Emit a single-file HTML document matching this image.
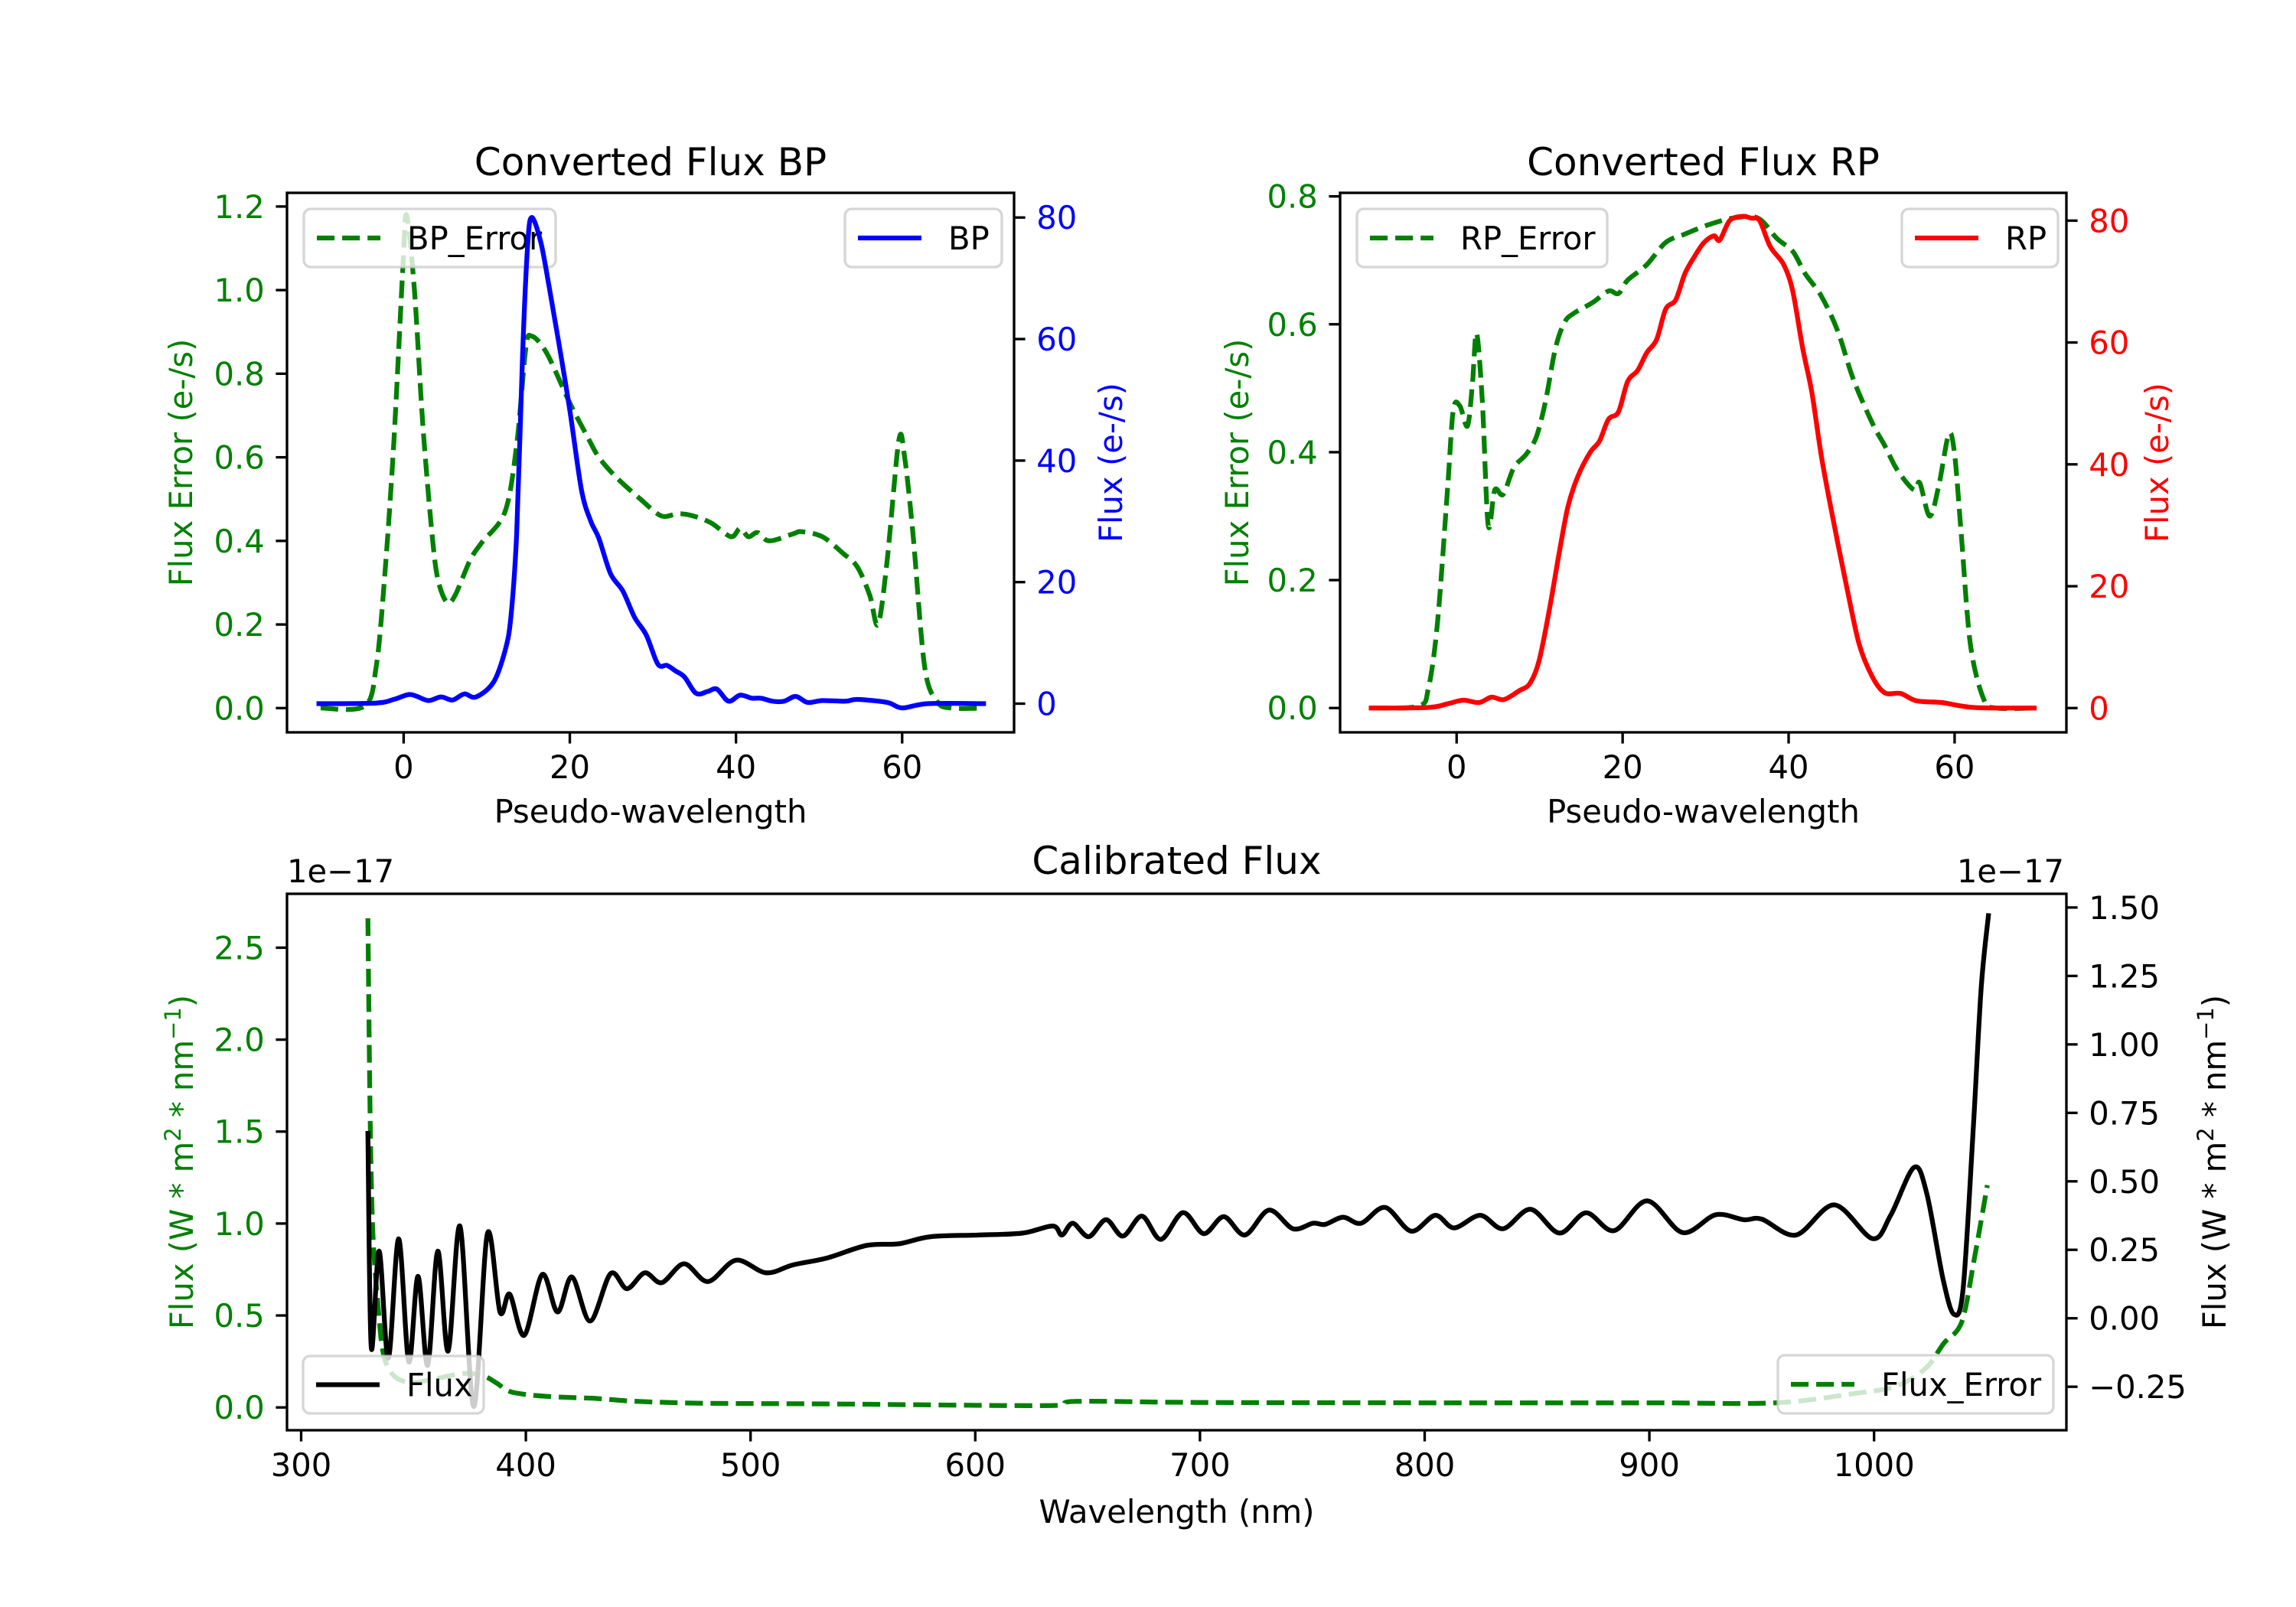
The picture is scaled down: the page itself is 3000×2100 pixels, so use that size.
<!DOCTYPE html>
<html><head><meta charset="utf-8"><style>
html,body{margin:0;padding:0;background:#fff}
svg{display:block}
text{font-family:"DejaVu Sans","Liberation Sans",sans-serif}
</style></head><body>
<svg id="fig" xmlns="http://www.w3.org/2000/svg" width="3000" height="2100" viewBox="0 0 3000 2100">
<rect width="3000" height="2100" fill="#fff"/>
</svg>
<script>
// ---- data: BP panel ----
const bpX = [-10.2,-3.3,-1.2,0.6,1.6,3.0,4.5,5.9,7.3,8.7,10.8,12.2,12.9,13.6,14.3,14.9,15.4,16.5,17.5,18.6,20,21.4,22.5,23.5,24.9,26.4,27.8,29.2,30.6,31.7,32.7,33.8,35.2,36.6,37.7,39.1,40.5,41.9,43,44.4,45.8,47.2,48.6,50.4,53.2,54.6,58.2,60,63.1,69.8];
const bpFlux = [0,0.1,0.7,1.5,1.2,0.5,1.1,0.6,1.6,1.1,3.5,8.7,14.2,28,57,75,80,76,68.7,60,48.3,35.2,30.1,27.2,21.4,18.5,14.2,11.3,6.5,6.3,5.4,4.4,1.7,2.0,2.4,0.4,1.4,0.9,0.9,0.4,0.4,1.2,0.2,0.5,0.4,0.7,0.2,-0.7,0,0];
const bpErrX = [-10,-4.7,-3.3,-2.3,-1.2,-0.1,0.35,1.3,2.3,3.4,4.1,5.2,6.2,8.0,9.4,12.2,13.6,14.7,15.4,17.2,20,22.1,23.5,25.7,28.5,31,33,34.8,37,39.4,40.5,41.5,42.6,44,46.9,47.9,50.4,52.9,54.6,56.1,57.1,58.2,59.6,60.3,61.3,62.7,64.2,65.9,69.8];
const bpErr = [0,0.005,0.10,0.31,0.63,1.05,1.18,1.0,0.68,0.42,0.31,0.253,0.27,0.354,0.396,0.47,0.63,0.86,0.89,0.85,0.73,0.65,0.6,0.55,0.50,0.46,0.465,0.46,0.443,0.41,0.43,0.41,0.42,0.40,0.417,0.422,0.41,0.37,0.338,0.27,0.20,0.354,0.64,0.6,0.417,0.10,0.016,0,0];
// ---- data: RP panel ----
const rpX = [-10.3,-3.4,-1.1,0.8,2.7,4.2,5.7,7.6,8.8,9.9,11.1,12.3,13.4,14.6,16.1,17.2,18.3,19.5,20.6,21.8,22.9,24.1,25.2,26.4,27.5,28.7,29.8,31,31.7,32.9,34.4,35.5,36.5,37.8,39.4,40.5,41.7,42.8,44,45.5,47,48.5,50.1,51.6,53.5,55.4,58.5,62.3,69.6];
const rpFlux = [0,0.1,0.7,1.3,0.9,1.8,1.4,2.9,4.0,7.6,15.6,25,33,38,42,43.8,47.4,48.6,53.6,55.4,58.3,60.5,65.5,67,71.3,74.2,76.4,77.5,76.8,80,80.7,80.4,80,75.7,72.8,68.4,59,51.8,40.9,30,19.9,10.5,5.1,2.5,2.4,1.2,0.9,0.1,0];
const rpErrX = [-10.3,-4.6,-3.4,-2.3,-1.1,-0.4,0.4,1.3,1.9,2.4,3.1,3.8,4.6,5.6,6.9,8.4,9.6,10.7,11.9,13,14.1,16.4,18.3,19.5,20.6,22.9,25.2,27.5,30.2,33.3,36.3,38.6,40.5,42,43.9,45.9,47.8,50.1,51.6,53.1,55.1,55.8,57,58.1,59.3,60,60.8,61.9,63.5,65,69.6];
const rpErr = [0,0.003,0.031,0.134,0.341,0.466,0.472,0.441,0.507,0.586,0.479,0.286,0.341,0.334,0.376,0.397,0.424,0.479,0.562,0.603,0.617,0.634,0.652,0.648,0.669,0.693,0.728,0.741,0.755,0.766,0.766,0.734,0.714,0.679,0.645,0.59,0.514,0.445,0.41,0.372,0.341,0.352,0.3,0.348,0.428,0.397,0.272,0.1,0.014,0,0];
// ---- data: calibrated ----
const calX = [329.7,331.2,334.7,338.8,343.4,347.9,352,356.3,360.8,365.4,370.7,376.8,382.9,388.5,392.8,399.3,407.3,414.1,420.5,428.6,437.7,445,452.9,460.5,470.4,481,493.5,506.9,519,534,551.6,565.9,580.1,601.5,621.1,634.5,638.6,643.4,650.5,658.2,665.7,674.2,682.6,692.4,701.7,710.6,720,730.7,741.4,750.3,755.7,763.7,771.7,782.4,794,804.7,813.1,824.7,834.9,847.1,860,871.8,884.3,899,914.8,929.5,942,950.1,965.3,982.3,999.3,1007.4,1017.8,1023.5,1030.7,1035.5,1039.6,1044.1,1047.7,1050.9];
const calFlux = [0.675,-0.107,0.245,-0.146,0.29,-0.159,0.153,-0.172,0.245,-0.12,0.336,-0.322,0.31,0.023,0.088,-0.062,0.16,0.023,0.151,-0.01,0.163,0.108,0.166,0.13,0.199,0.134,0.212,0.166,0.195,0.22,0.266,0.272,0.298,0.304,0.311,0.337,0.304,0.347,0.298,0.36,0.3,0.373,0.288,0.386,0.309,0.371,0.304,0.395,0.327,0.347,0.343,0.369,0.347,0.405,0.318,0.376,0.33,0.376,0.327,0.398,0.311,0.385,0.32,0.429,0.313,0.378,0.36,0.362,0.304,0.414,0.291,0.376,0.551,0.454,0.143,0.015,0.104,0.688,1.208,1.47];
const calErrX = [329.7,330.8,332,334.3,336.6,341.1,348.7,359.4,371.5,380.6,386.7,392.8,401.9,411,420.2,432.4,447.6,478,534,633.7,645,700,800,900,956,992,1010,1023,1031,1039,1044.5,1050.4];
const calErr = [2.66,1.508,0.929,0.541,0.29,0.174,0.135,0.155,0.184,0.174,0.135,0.087,0.068,0.059,0.054,0.048,0.034,0.023,0.019,0.01,0.033,0.027,0.025,0.025,0.025,0.077,0.116,0.213,0.348,0.464,0.8,1.209];
// ---- ticks ----
const pseudoTicks = [0,20,40,60];
const bpErrTicks = [0,0.2,0.4,0.6,0.8,1.0,1.2];
const fluxTicks = [0,20,40,60,80];
const rpErrTicks = [0,0.2,0.4,0.6,0.8];
const wlTicks = [300,400,500,600,700,800,900,1000];
const calErrTicks = [0,0.5,1.0,1.5,2.0,2.5];
const calFluxTicks = [-0.25,0,0.25,0.5,0.75,1.0,1.25,1.5];

const NS='http://www.w3.org/2000/svg';
const svg=document.getElementById('fig');
function el(tag,attrs,parent){const e=document.createElementNS(NS,tag);for(const k in attrs)e.setAttribute(k,attrs[k]);(parent||svg).appendChild(e);return e;}
function lin(d0,d1,p0,p1){return v=>p0+(v-d0)*(p1-p0)/(d1-d0);}
const FS=41.7, LW=6.25, SW=3.33, TL=14.6;

function drawLine(xs,ys,sx,sy,color,dashed,name){
  const P=xs.map((x,i)=>[sx(x),sy(ys[i])]);
  let d='M'+P[0][0].toFixed(1)+' '+P[0][1].toFixed(1);
  const k=0.16;
  for(let i=0;i<P.length-1;i++){
    const p0=P[Math.max(i-1,0)],p1=P[i],p2=P[i+1],p3=P[Math.min(i+2,P.length-1)];
    const c1=[p1[0]+(p2[0]-p0[0])*k,p1[1]+(p2[1]-p0[1])*k];
    const c2=[p2[0]-(p3[0]-p1[0])*k,p2[1]-(p3[1]-p1[1])*k];
    // keep control x monotonic within segment
    c1[0]=Math.min(Math.max(c1[0],p1[0]),p2[0]);c2[0]=Math.min(Math.max(c2[0],p1[0]),p2[0]);
    d+=' C'+c1[0].toFixed(1)+' '+c1[1].toFixed(1)+' '+c2[0].toFixed(1)+' '+c2[1].toFixed(1)+' '+p2[0].toFixed(1)+' '+p2[1].toFixed(1);
  }
  const p=el('path',{d:d,fill:'none',stroke:color,'stroke-width':LW,'stroke-linejoin':'round','stroke-linecap':dashed?'butt':'square'});
  if(dashed)p.setAttribute('stroke-dasharray','23.1 10');
  
  
}
function fmt(v,dec){let s=v.toFixed(dec);if(v<0)s='\u2212'+Math.abs(v).toFixed(dec);return s;}
function xTicks(ticks,sx,yb,name){
  ticks.forEach(t=>{
    const x=sx(t);
    el('line',{x1:x,x2:x,y1:yb,y2:yb+TL,stroke:'#000','stroke-width':SW});
    const tx=el('text',{x:x,y:yb+TL+14.6+31,'font-size':FS,'text-anchor':'middle',fill:'#000'});
    tx.textContent=String(t);
    
    
  });
}
function yTicks(ticks,sy,xa,side,color,dec,name){
  ticks.forEach(t=>{
    const y=sy(t);
    const dir=side==='left'?-1:1;
    el('line',{x1:xa,x2:xa+dir*TL,y1:y,y2:y,stroke:'#000','stroke-width':SW});
    const tx=el('text',{x:xa+dir*(TL+14.6),y:y+15,'font-size':FS,'text-anchor':side==='left'?'end':'start',fill:color});
    tx.textContent=fmt(t,dec);
    
    
  });
}
function frame(x0,y0,x1,y1,name){
  const r=el('rect',{x:x0,y:y0,width:x1-x0,height:y1-y0,fill:'none',stroke:'#000','stroke-width':SW});
  
  
}
function legend(x0,y0,x1,y1,label,color,dashed,name){
  const g=el('g',{});
  
  
  el('rect',{x:x0,y:y0,width:x1-x0,height:y1-y0,rx:9,fill:'#fff','fill-opacity':0.8,stroke:'#cccccc','stroke-opacity':0.8,'stroke-width':SW},g);
  const cy=(y0+y1)/2;
  const ln=el('line',{x1:x0+17,x2:x0+100,y1:cy,y2:cy,stroke:color,'stroke-width':LW},g);
  if(dashed)ln.setAttribute('stroke-dasharray','23.1 10');
  const t=el('text',{x:x0+135,y:cy+15,'font-size':FS,fill:'#000'},g);
  t.textContent=label;
}
function text(x,y,s,opts,name){
  const t=el('text',Object.assign({x:x,y:y,'font-size':FS,fill:'#000'},opts||{}));
  t.textContent=s;
  
  
  return t;
}
function vtext(x,y,s,color,name){
  const t=el('text',{x:0,y:0,'font-size':FS,fill:color,'text-anchor':'middle',transform:'translate('+x+','+y+') rotate(-90)'});
  t.textContent=s;
  
  
  return t;
}

// ===== BP panel =====
(function(){
  const L=375,R=1325,T=252,B=957;
  const sx=lin(-14.04,73.47,L,R);
  const sy=lin(-0.058,1.2327,B,T);
  const sy2=lin(-4.72,84.06,B,T);
  drawLine(bpErrX,bpErr,sx,sy,'#008000',true,'bp-error-line');
  legend(397,273,726,349,'BP_Error','#008000',true,'bp-error-legend');
  drawLine(bpX,bpFlux,sx,sy2,'#0000ff',false,'bp-flux-line');
  legend(1104,273,1309,349,'BP','#0000ff',false,'bp-legend');
  frame(L,T,R,B,'bp-axes-frame');
  xTicks(pseudoTicks,sx,B,'bp-x-tick');
  yTicks(bpErrTicks,sy,L,'left','#008000',1,'bp-error-tick');
  yTicks(fluxTicks,sy2,R,'right','#0000ff',0,'bp-flux-tick');
  text((L+R)/2,229,'Converted Flux BP',{'font-size':50,'text-anchor':'middle'},'bp-title');
  text((L+R)/2,1075,'Pseudo-wavelength',{'text-anchor':'middle'},'bp-x-axis-title');
  vtext(251,(T+B)/2,'Flux Error (e-/s)','#008000','bp-left-y-axis-title');
  vtext(1466,(T+B)/2,'Flux (e-/s)','#0000ff','bp-right-y-axis-title');
})();

// ===== RP panel =====
(function(){
  const L=1751,R=2700,T=252,B=957;
  const sx=lin(-14.04,73.47,L,R);
  const sy=lin(-0.038,0.8055,B,T);
  const sy2=lin(-3.98,84.56,B,T);
  drawLine(rpErrX,rpErr,sx,sy,'#008000',true,'rp-error-line');
  legend(1773,273,2100,349,'RP_Error','#008000',true,'rp-error-legend');
  drawLine(rpX,rpFlux,sx,sy2,'#ff0000',false,'rp-flux-line');
  legend(2485,273,2689,349,'RP','#ff0000',false,'rp-legend');
  frame(L,T,R,B,'rp-axes-frame');
  xTicks(pseudoTicks,sx,B,'rp-x-tick');
  yTicks(rpErrTicks,sy,L,'left','#008000',1,'rp-error-tick');
  yTicks(fluxTicks,sy2,R,'right','#ff0000',0,'rp-flux-tick');
  text((L+R)/2,229,'Converted Flux RP',{'font-size':50,'text-anchor':'middle'},'rp-title');
  text((L+R)/2,1075,'Pseudo-wavelength',{'text-anchor':'middle'},'rp-x-axis-title');
  vtext(1631,(T+B)/2,'Flux Error (e-/s)','#008000','rp-left-y-axis-title');
  vtext(2833,(T+B)/2,'Flux (e-/s)','#ff0000','rp-right-y-axis-title');
})();

// ===== Calibrated panel =====
(function(){
  const L=375,R=2700,T=1168,B=1869;
  const sx=lin(293.7,1085.6,L,R);
  const sy=lin(-0.124,2.793,B,T);
  const sy2=lin(-0.4088,1.55,B,T);
  drawLine(calErrX,calErr,sx,sy,'#008000',true,'flux-error-line');
  drawLine(calX,calFlux,sx,sy2,'#000000',false,'flux-line');
  legend(396,1772,632,1847,'Flux','#000000',false,'flux-legend');
  legend(2323,1771,2683,1847,'Flux_Error','#008000',true,'flux-error-legend');
  frame(L,T,R,B,'calibrated-axes-frame');
  xTicks(wlTicks,sx,B,'wavelength-tick');
  yTicks(calErrTicks,sy,L,'left','#008000',1,'flux-error-tick');
  yTicks(calFluxTicks,sy2,R,'right','#000000',2,'flux-tick');
  text((L+R)/2,1142,'Calibrated Flux',{'font-size':50,'text-anchor':'middle'},'calibrated-title');
  text(375,1153,'1e\u221217',{},'left-offset-text');
  text(2697,1153,'1e\u221217',{'text-anchor':'end'},'right-offset-text');
  text((L+R)/2,1990,'Wavelength (nm)',{'text-anchor':'middle'},'wavelength-axis-title');
  const lt=vtext(252,(T+B)/2,'','#008000','calibrated-left-y-axis-title');
  lt.innerHTML='Flux (W * m<tspan dy="-16" font-size="29">2</tspan><tspan dy="16"> * nm</tspan><tspan dy="-16" font-size="29">\u22121</tspan><tspan dy="16">)</tspan>';
  const rt=vtext(2908,(T+B)/2,'','#000000','calibrated-right-y-axis-title');
  rt.innerHTML='Flux (W * m<tspan dy="-16" font-size="29">2</tspan><tspan dy="16"> * nm</tspan><tspan dy="-16" font-size="29">\u22121</tspan><tspan dy="16">)</tspan>';
})();
</script>
</body></html>
